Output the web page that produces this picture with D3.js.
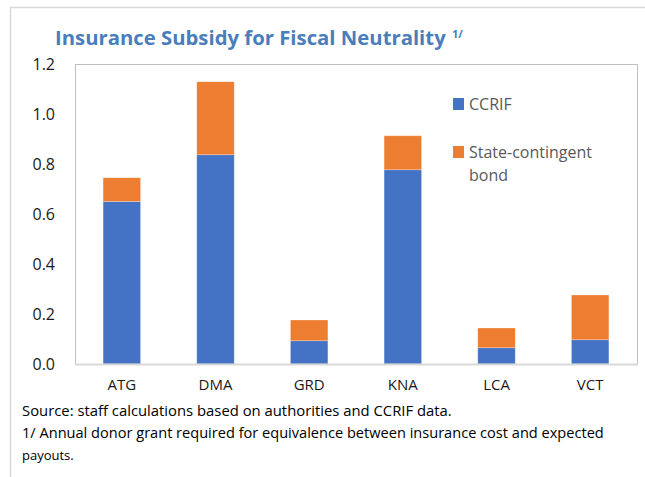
<!DOCTYPE html>
<html>
<head>
<meta charset="utf-8">
<script src="https://cdn.jsdelivr.net/npm/d3@7"></script>
<style>
  body { margin: 0; background: #fff; }
  svg { display: block; font-family: "Open Sans", "Noto Sans", sans-serif; }
</style>
</head>
<body>
<div id="chart"></div>
<script>
// data
var countries = ["ATG", "DMA", "GRD", "KNA", "LCA", "VCT"];
var ccrif = [0.65, 0.837, 0.093, 0.777, 0.065, 0.097];
var bond = [0.095, 0.292, 0.083, 0.136, 0.079, 0.179];
var seriesNames = ["CCRIF", "State-contingent bond"];
var seriesColors = ["#4472C4", "#ED7D31"];
var yTicks = [0, 0.2, 0.4, 0.6, 0.8, 1.0, 1.2];

var W = 645, H = 477;
var plot = { left: 75, right: 637, top: 64, bottom: 364 };

var svg = d3.select('#chart').append('svg')
    .attr('width', W)
    .attr('height', H);

// outer frame (only top and left visible)
svg.append('line').attr('x1', 10).attr('x2', W).attr('y1', 7.5).attr('y2', 7.5)
    .attr('stroke', '#d9d9d9').attr('stroke-width', 1.5);
svg.append('line').attr('x1', 10.5).attr('x2', 10.5).attr('y1', 7).attr('y2', H)
    .attr('stroke', '#d9d9d9').attr('stroke-width', 1.5);

// title
var title = svg.append('text')
    .attr('x', 55).attr('y', 45)
    .attr('fill', '#4A7EBB')
    .style('font-weight', 'bold')
    .style('font-size', '17px')
    .text('Insurance Subsidy for Fiscal Neutrality');
fitWidth(title, 391, 17);
svg.append('text')
    .attr('x', 452).attr('y', 38)
    .attr('fill', '#4A7EBB')
    .style('font-weight', 'bold')
    .style('font-size', '11px')
    .text('1/');

var x = d3.scaleBand()
    .domain(countries)
    .range([plot.left, plot.right])
    .paddingInner(0.6)
    .paddingOuter(0.3);

var y = d3.scaleLinear()
    .domain([0, 1.2])
    .range([plot.bottom, plot.top]);

// plot frame
svg.append('rect')
    .attr('x', plot.left + 0.5).attr('y', plot.top + 0.5)
    .attr('width', plot.right - plot.left).attr('height', plot.bottom - plot.top)
    .attr('fill', 'none').attr('stroke', '#bfbfbf');

// stacked bars
var rows = countries.map(function (c, i) {
    return { country: c, CCRIF: ccrif[i], "State-contingent bond": bond[i] };
});
var stacked = d3.stack().keys(seriesNames)(rows);

svg.selectAll('.series')
    .data(stacked)
    .enter().append('g')
    .attr('class', 'series')
    .attr('fill', function (d, i) { return seriesColors[i]; })
    .selectAll('rect')
    .data(function (d) { return d; })
    .enter().append('rect')
    .attr('x', function (d) { return x(d.data.country); })
    .attr('width', x.bandwidth())
    .attr('y', function (d) { return y(d[1]); })
    .attr('height', function (d) { return y(d[0]) - y(d[1]); })
    .attr('stroke', '#ffffff').attr('stroke-opacity', 0.35).attr('stroke-width', 0.75);

// bottom axis line
svg.append('line')
    .attr('x1', plot.left).attr('x2', plot.right + 1)
    .attr('y1', y(0) + 0.5).attr('y2', y(0) + 0.5)
    .attr('stroke', '#d9d9d9').attr('stroke-width', 2);

// y axis labels
var yAxis = svg.append('g')
    .attr('transform', 'translate(' + (plot.left - 20) + ',0)')
    .call(d3.axisLeft(y).tickValues(yTicks).tickFormat(d3.format('.1f')).tickSize(0).tickPadding(0));
yAxis.select('.domain').remove();
yAxis.selectAll('text')
    .attr('fill', '#1a1a1a')
    .style('font-size', '16px')
    .style('font-family', '"Open Sans", "Noto Sans", sans-serif');

// x axis labels
var xAxis = svg.append('g')
    .attr('transform', 'translate(0,' + plot.bottom + ')')
    .call(d3.axisBottom(x).tickSize(0).tickPadding(15));
xAxis.select('.domain').remove();
xAxis.selectAll('text')
    .attr('fill', '#1a1a1a')
    .style('font-size', '15px')
    .style('font-family', '"Open Sans", "Noto Sans", sans-serif');

// legend
var legend = svg.append('g');
var legendRows = [
    { lines: ["CCRIF"], y: 110 },
    { lines: ["State-contingent", "bond"], y: 158 }
];
legendRows.forEach(function (r, i) {
    legend.append('rect')
        .attr('x', 453).attr('y', r.y - 12)
        .attr('width', 11).attr('height', 12)
        .attr('fill', seriesColors[i]);
    r.lines.forEach(function (line, j) {
        legend.append('text')
            .attr('x', 469).attr('y', r.y + j * 23)
            .attr('fill', '#595959')
            .style('font-size', '16px')
            .text(line);
    });
});

// footnotes
var notes = [
    { t: "Source: staff calculations based on authorities and CCRIF data.", y: 416, w: 430 },
    { t: "1/ Annual donor grant required for equivalence between insurance cost and expected", y: 438, w: 582 },
    { t: "payouts.", y: 460, w: 0 }
];
notes.forEach(function (n) {
    var t = svg.append('text')
        .attr('x', 22).attr('y', n.y)
        .attr('fill', '#000')
        .style('font-size', '13px')
        .text(n.t);
    if (n.w) fitWidth(t, n.w, 13);
});

function fitWidth(sel, target, size) {
    var len = sel.node().getComputedTextLength();
    if (len > 0) sel.style('font-size', (size * target / len).toFixed(2) + 'px');
}
</script>
</body>
</html>
